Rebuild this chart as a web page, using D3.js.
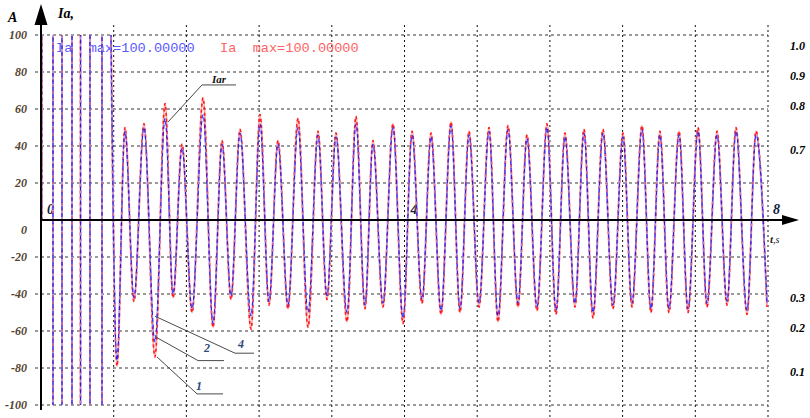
<!DOCTYPE html>
<html>
<head>
<meta charset="utf-8">
<script src="https://cdn.jsdelivr.net/npm/d3@7/dist/d3.min.js"></script>
<style>
  html, body { margin: 0; padding: 0; background: #fff; }
  svg { display: block; }
  text { font-family: "Liberation Serif", "Times New Roman", serif; }
  text.mono { font-family: "Liberation Mono", "Courier New", monospace; white-space: pre; }
</style>
</head>
<body>
<svg id="chart" width="810" height="418"></svg>
<script>
// ---- data ---------------------------------------------------------------
// Y grid / tick values, A
const yTicks = [100, 80, 60, 40, 20, 0, -20, -40, -60, -80, -100];
// Vertical grid, s
const xGrid = [0.8, 1.6, 2.4, 3.2, 4.0, 4.8, 5.6, 6.4, 7.2, 8.0];
const xLabels = [0, 4, 8];

// Right-hand scale labels and the Ia level each one sits at
const rightLabels = ["1.0", "0.9", "0.8", "0.7", "0.3", "0.2", "0.1"];
const rightLevels = [94, 78, 61.5, 38, -42, -58.5, -82];

// Start-up: current saturates beyond ±100 A, switching at these instants
const startT  = [0, 0.008, 0.132, 0.231, 0.341, 0.435, 0.539, 0.671, 0.759];
const startIa = [0, 150, -150, 150, -150, 150, -150, 150, 150];

// Oscillation extrema after start-up (s)
const extT = [0.759,
  0.836, 0.924, 1.023, 1.133, 1.254, 1.365, 1.453, 1.552, 1.662, 1.783,
  1.893, 1.992, 2.091, 2.190, 2.311, 2.410, 2.509, 2.608, 2.718, 2.828,
  2.938, 3.048, 3.147, 3.246, 3.367, 3.466, 3.565, 3.653, 3.763, 3.873,
  3.984, 4.083, 4.193, 4.292, 4.402, 4.512, 4.611, 4.710, 4.820, 4.930,
  5.029, 5.139, 5.249, 5.348, 5.458, 5.568, 5.667, 5.766, 5.876, 5.975,
  6.074, 6.184, 6.294, 6.404, 6.503, 6.613, 6.712, 6.811, 6.910, 7.021,
  7.120, 7.230, 7.329, 7.439, 7.549, 7.648, 7.769, 7.868, 7.989];

// Ia, blue trace (A)
const iaBlue = [150,
  -76, 48, -42, 50, -66, 55, -40, 39, -48, 57,
  -56, 41, -41, 47, -52, 52, -44, 41, -46, 50,
  -50, 46, -41, 45, -50, 52, -46, 41, -45, 50,
  -53, 46, -43, 45, -49, 51, -48, 46, -45, 48,
  -52, 49, -45, 44, -47, 50, -49, 45, -45, 47,
  -50, 47, -46, 45, -45, 49, -48, 46, -48, 46,
  -48, 48, -45, 46, -44, 48, -49, 46, -45];

// Ia, red trace (A)
const iaRed = [150,
  -79, 50, -44, 52, -74, 63, -42, 41, -50, 66,
  -58, 43, -43, 49, -59, 57, -46, 43, -48, 55,
  -58, 48, -43, 47, -55, 56, -48, 43, -47, 52,
  -56, 48, -45, 47, -51, 53, -50, 48, -47, 50,
  -55, 51, -47, 46, -49, 52, -51, 47, -47, 49,
  -53, 49, -48, 47, -47, 51, -50, 48, -50, 48,
  -50, 50, -47, 48, -46, 50, -51, 48, -47];

// Leader lines for the curve labels, in (s, A)
const leaders = [
  { text: "Iar", pts: [[1.398, 53], [1.772, 73], [2.146, 73]], at: [1.882, 74], size: 11, color: "#111" },
  { text: "4",   pts: [[1.254, -52], [2.135, -72], [2.344, -72]], at: [2.168, -69], size: 12, color: "#2c4a78" },
  { text: "2",   pts: [[1.254, -63], [1.728, -76], [2.014, -76]], at: [1.794, -71.5], size: 12, color: "#2c4a78" },
  { text: "1",   pts: [[1.276, -74], [1.717, -94], [2.003, -94]], at: [1.706, -92], size: 12, color: "#2c4a78" }
];

// ---- scales -------------------------------------------------------------
const svg = d3.select("#chart");
const x = d3.scaleLinear().domain([0, 8]).range([41, 768]);
const y = d3.scaleLinear().domain([-100, 100]).range([405, 35]);

// ---- grid ---------------------------------------------------------------
const grid = svg.append("g");
grid.selectAll("line.h").data(yTicks.filter(v => v !== 0)).join("line")
  .attr("x1", 35).attr("x2", x(8))
  .attr("y1", d => y(d)).attr("y2", d => y(d))
  .attr("stroke", "#7a7a7a").attr("stroke-width", 1.6)
  .attr("stroke-dasharray", "3,3");
grid.selectAll("line.v").data(xGrid).join("line")
  .attr("x1", d => x(d)).attr("x2", d => x(d))
  .attr("y1", 25).attr("y2", 418)
  .attr("stroke", "#111").attr("stroke-width", 1)
  .attr("stroke-dasharray", "2,3");

// ---- left tick labels ---------------------------------------------------
svg.append("g").selectAll("text").data(yTicks).join("text")
  .attr("x", 27)
  .attr("y", d => d === 0 ? y(0) + 10 : y(d))
  .attr("dy", "0.35em")
  .attr("text-anchor", "end")
  .attr("font-size", 12).attr("font-weight", "bold").attr("font-style", "italic")
  .attr("fill", "#524530")
  .text(d => d);

// ---- right labels -------------------------------------------------------
svg.append("g").selectAll("text").data(rightLabels).join("text")
  .attr("x", 790)
  .attr("y", (d, i) => y(rightLevels[i]))
  .attr("dy", "0.35em")
  .attr("font-size", 12).attr("font-weight", "bold").attr("font-style", "italic")
  .attr("fill", "#000")
  .text(d => d);

// ---- time labels on the axis (under the traces) -------------------------
svg.append("g").selectAll("text").data(xLabels).join("text")
  .attr("x", d => x(d) + (d === 8 ? 5 : 6))
  .attr("y", y(0) - 6)
  .attr("font-size", 14).attr("font-weight", "bold").attr("font-style", "italic")
  .attr("fill", "#10203a")
  .text(d => d);

// ---- legend -------------------------------------------------------------
const legend = svg.append("g");
legend.append("text").attr("class", "mono").attr("xml:space", "preserve")
  .attr("x", 56).attr("y", 52).attr("font-size", 13.6).attr("fill", "#5a5aff")
  .text("Ia  max=100.00000");
legend.append("text").attr("class", "mono").attr("xml:space", "preserve")
  .attr("x", 220).attr("y", 52).attr("font-size", 13.6).attr("fill", "#ff6464")
  .text("Ia  max=100.00000");

// ---- traces -------------------------------------------------------------
svg.append("clipPath").attr("id", "plot")
  .append("rect").attr("x", x(0)).attr("y", y(100))
  .attr("width", x(8) - x(0)).attr("height", y(-100) - y(100));

const traces = svg.append("g").attr("clip-path", "url(#plot)").attr("fill", "none");
const stepLine = d3.line().x(d => x(d[0])).y(d => y(d[1])).curve(d3.curveStepAfter);
const waveLine = d3.line().x(d => x(d[0])).y(d => y(d[1])).curve(d3.curveMonotoneX);

const startPts = startT.map((t, i) => [t, startIa[i]]);
const bluePts = extT.map((t, i) => [t, iaBlue[i]]);
const redPts = extT.map((t, i) => [t, iaRed[i]]);

function drawTrace(pts, gen, styles) {
  styles.forEach(s => {
    traces.append("path").attr("d", gen(pts))
      .attr("stroke", s.c).attr("stroke-width", s.w)
      .attr("stroke-dasharray", s.dash || null)
      .attr("stroke-linejoin", "round");
  });
}
const redStyle = [{ c: "#ff9d9d", w: 2.0 }, { c: "#ff1a1a", w: 1.6, dash: "3,3" }];
const blueStyle = [{ c: "#9090ff", w: 1.1 }, { c: "#1a1aff", w: 1.0, dash: "4,3" }];

drawTrace(startPts, stepLine, redStyle);
drawTrace(redPts, waveLine, redStyle);
drawTrace(startPts, stepLine, blueStyle);
drawTrace(bluePts, waveLine, blueStyle);

// ---- axes ---------------------------------------------------------------
const axes = svg.append("g");
axes.append("line").attr("x1", x(0)).attr("x2", 785)
  .attr("y1", y(0)).attr("y2", y(0))
  .attr("stroke", "#000").attr("stroke-width", 2);
axes.append("path")
  .attr("d", `M782,${y(0) - 5}L799,${y(0)}L782,${y(0) + 5}Z`)
  .attr("fill", "#000");
axes.append("line").attr("x1", x(0)).attr("x2", x(0))
  .attr("y1", 22).attr("y2", 410)
  .attr("stroke", "#000").attr("stroke-width", 2);
axes.append("path")
  .attr("d", `M${x(0) - 6.5},25L${x(0)},4L${x(0) + 6.5},25Z`)
  .attr("fill", "#000");

// axis titles
svg.append("text").attr("x", 8).attr("y", 22)
  .attr("font-size", 14).attr("font-weight", "bold").attr("font-style", "italic")
  .text("A");
svg.append("text").attr("x", 58).attr("y", 18)
  .attr("font-size", 14).attr("font-weight", "bold").attr("font-style", "italic")
  .text("Ia,");
const ts = svg.append("text").attr("x", 770).attr("y", 243)
  .attr("font-size", 10).attr("font-style", "italic").attr("fill", "#222");
ts.append("tspan").attr("font-weight", "bold").attr("font-size", 11).text("t");
ts.append("tspan").text(",s");

// ---- curve labels -------------------------------------------------------
const ann = svg.append("g");
const leaderLine = d3.line().x(d => x(d[0])).y(d => y(d[1]));
leaders.forEach(a => {
  ann.append("path").attr("d", leaderLine(a.pts))
    .attr("fill", "none").attr("stroke", "#4a4a4a").attr("stroke-width", 1);
  ann.append("text").attr("x", x(a.at[0])).attr("y", y(a.at[1]))
    .attr("font-size", a.size).attr("font-weight", "bold").attr("font-style", "italic")
    .attr("fill", a.color)
    .text(a.text);
});
</script>
</body>
</html>
